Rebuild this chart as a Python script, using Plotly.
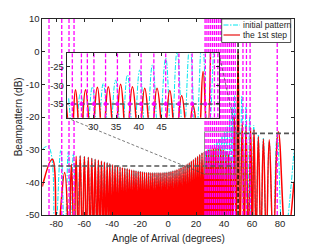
import plotly.graph_objects as go

FIG_W, FIG_H = 325, 244
PAGE_OFF = 8.0   # the page body margin shifts the figure by 8 px right and down
FONT = "Liberation Sans, Arial, sans-serif"
INK = "#262626"

# ---------------- main plot data (angle in degrees, level in dB) ----------------
x_tick_vals = [-80, -60, -40, -20, 0, 20, 40, 60, 80]
x_tick_text = ["-80", "-60", "-40", "-20", "0", "20", "40", "60", "80"]
y_tick_vals = [-50, -40, -30, -20, -10, 0, 10]
y_tick_text = ["-50", "-40", "-30", "-20", "-10", "0", "10"]

MAIN_NULL_DB = -58.0   # nulls fall below the visible range

red_start = (-90.0, -41.3)
red_end = (90.0, -39.8)
red_peak_deg = [-82.8, -74.0, -69.2,
    -65.8, -62.9, -59.9, -57.1, -54.6, -52.2, -49.9, -47.7, -45.6, -43.6,
    -41.7, -39.8, -38.0, -36.2, -34.4, -32.7, -31.0, -29.3, -27.7, -26.1,
    -24.5, -23.0, -21.4, -19.9, -18.4, -16.9, -15.4, -13.9, -12.4, -11.0,
    -9.5, -8.0, -6.6, -5.2, -3.7, -2.3, -0.9, 0.6, 2.0, 3.4,
    4.9, 6.3, 7.8, 9.2, 10.7, 12.1, 13.6, 15.1, 16.6, 18.1,
    19.6, 21.1, 22.6, 24.2, 25.8, 27.4, 29.0, 30.7, 32.3, 34.1,
    35.8, 37.6, 39.4, 41.3, 43.2, 45.1,
    47.4, 50.0, 53.0, 55.7, 59.0, 61.4, 64.5, 68.1, 72.3, 78.8]
red_peak_db = [-32.9, -37.0, -34.5,
    -32.0, -31.9, -32.1, -32.3, -32.6, -32.9, -33.2, -33.5, -33.8, -34.0,
    -34.3, -34.6, -34.9, -35.1, -35.3, -35.5, -35.7, -35.8, -36.0, -36.2,
    -36.3, -36.5, -36.6, -36.7, -36.8, -36.9, -37.0, -37.0, -37.1, -37.1,
    -37.1, -37.1, -37.1, -37.1, -37.0, -37.0, -36.9, -36.8, -36.7, -36.5,
    -36.3, -36.1, -35.8, -35.5, -35.2, -34.8, -34.4, -34.0, -33.5, -33.0,
    -32.5, -32.0, -31.5, -31.0, -30.6, -30.3, -30.0, -29.8, -29.6, -29.5,
    -29.5, -29.7, -30.0, -30.5, -31.3, -32.5,
    -20.0, 0.0, -21.9, -22.8, -23.2, -23.8, -26.0, -26.8, -27.0, -24.5]
red_null_deg = [-79.5, -71.0, -67.3,
    -64.3, -61.4, -58.5, -55.8, -53.4, -51.0, -48.8, -46.6, -44.6, -42.6,
    -40.7, -38.9, -37.1, -35.3, -33.5, -31.8, -30.1, -28.5, -26.9, -25.3,
    -23.7, -22.2, -20.6, -19.1, -17.6, -16.1, -14.6, -13.1, -11.7, -10.2,
    -8.7, -7.3, -5.9, -4.4, -3.0, -1.6, -0.1, 1.3, 2.7, 4.1,
    5.6, 7.0, 8.5, 9.9, 11.4, 12.8, 14.3, 15.8, 17.3, 18.8,
    20.3, 21.8, 23.4, 25.0, 26.6, 28.2, 29.8, 31.5, 33.2, 34.9,
    36.7, 38.5, 40.3, 42.2, 44.1,
    46.2, 48.7, 51.3, 54.4, 57.4, 60.2, 62.9, 66.3, 70.2, 75.2, 84.5]

cyan_start = (-90.0, -29.9)
cyan_end = (90.0, -30.2)
cyan_peak_deg = [-85.7, -76.8, -71.4, -67.8,
    -62.9, -59.9, -57.1, -54.6, -52.2, -49.9, -47.7, -45.6, -43.6, -41.7,
    -39.8, -38.0, -36.2, -34.4, -32.7, -31.0, -29.3, -27.7, -26.1, -24.5,
    -23.0, -21.4, -19.9, -18.4, -16.9, -15.4, -13.9, -12.4, -11.0, -9.5,
    -8.0, -6.6, -5.2, -3.7, -2.3, -0.9, 0.6, 2.0, 3.4, 4.9,
    6.3, 7.8, 9.2, 10.7, 12.1, 13.6, 15.1, 16.6, 18.1, 19.6,
    21.1, 22.6, 24.2,
    26.6, 28.2, 29.8, 31.5, 33.2, 34.9, 36.7, 38.5, 40.3, 42.2, 44.1, 45.9, 47.5,
    50.0, 52.7, 55.6, 58.3, 61.2, 64.5, 68.1, 72.3, 78.0]
cyan_peak_db = [-29.1, -30.3, -30.6, -31.1,
    -31.9, -32.1, -32.3, -32.6, -32.9, -33.2, -33.5, -33.8, -34.0, -34.3,
    -34.6, -34.9, -35.1, -35.3, -35.5, -35.7, -35.8, -36.0, -36.2, -36.3,
    -36.5, -36.6, -36.7, -36.8, -36.9, -37.0, -37.0, -37.1, -37.1, -37.1,
    -37.1, -37.1, -37.1, -37.0, -37.0, -36.9, -36.8, -36.7, -36.5, -36.3,
    -36.1, -35.8, -35.5, -35.2, -34.8, -34.4, -34.0, -33.5, -33.0, -32.5,
    -32.0, -31.5, -31.0,
    -30.5, -30.0, -29.6, -29.0, -28.4, -27.6, -26.8, -25.8, -24.6, -23.0, -20.5, -17.0, -13.5,
    0.0, -13.5, -17.0, -20.0, -22.5, -25.5, -26.5, -27.5, -25.5]
cyan_null_deg = [-81.0, -74.0, -69.6, -65.3,
    -61.4, -58.5, -55.8, -53.4, -51.0, -48.8, -46.6, -44.6, -42.6, -40.7,
    -38.9, -37.1, -35.3, -33.5, -31.8, -30.1, -28.5, -26.9, -25.3, -23.7,
    -22.2, -20.6, -19.1, -17.6, -16.1, -14.6, -13.1, -11.7, -10.2, -8.7,
    -7.3, -5.9, -4.4, -3.0, -1.6, -0.1, 1.3, 2.7, 4.1, 5.6,
    7.0, 8.5, 9.9, 11.4, 12.8, 14.3, 15.8, 17.3, 18.8, 20.3,
    21.8, 23.4,
    25.4, 27.4, 29.0, 30.7, 32.3, 34.1, 35.8, 37.6, 39.4, 41.3, 43.2, 45.0, 46.7, 48.6,
    51.3, 54.2, 57.0, 59.7, 62.8, 66.3, 70.2, 75.0, 82.4]

interf_deg = [-85.2, -76.1, -70.9, -67.3,
              26.4, 27.75, 29.1, 30.45, 31.8, 33.15, 34.5, 35.85, 37.2, 38.55,
              39.9, 41.25, 42.6, 43.95, 45.3, 46.65, 48.0,
              53.5, 56.0, 58.6, 78.0]
target_deg = [50.0]
thr_deg = [(-90.0, 48.5), (48.5, 90.0)]
thr_db = [-35.0, -25.0]
zoom_box_deg = (26.0, 48.5)
zoom_box_db = (-37.5, -24.5)

# ---------------- inset data ----------------
in_x_tick_vals = [30, 35, 40, 45]
in_x_tick_text = ["30", "35", "40", "45"]
in_y_tick_vals = [-35, -30, -25]
in_y_tick_text = ["-35", "-30", "-25"]
IN_NULL_DB = -45.0

in_red_peak_deg = [23.8, 26.1, 28.3, 30.9, 33.3, 36.0, 38.6, 41.3, 44.0, 46.8, 49.4, 51.9, 54.1, 56.0]
in_red_peak_db = [-31.0, -31.2, -31.2, -30.5, -30.4, -29.7, -30.4, -30.8, -30.8, -31.4, -32.8, -35.3, -26.3, 0.0]
in_red_null_deg = [25.2, 27.2, 29.6, 32.1, 34.7, 37.3, 40.0, 42.7, 45.5, 48.1, 50.8, 53.1, 55.0]

in_cyan_peak_deg = [24.6, 27.2, 29.8, 32.2, 34.9, 37.5, 40.2, 43.0, 45.9, 48.4, 51.2, 53.9, 56.5]
in_cyan_peak_db = [-33.5, -32.1, -30.4, -29.5, -28.6, -27.2, -25.9, -24.5, -22.7, -21.0, -19.0, -17.0, -15.0]
in_cyan_null_deg = [25.9, 28.5, 31.0, 33.55, 36.2, 38.85, 41.6, 44.4, 47.15, 49.8, 52.55, 55.2]

in_interf_deg = [25.4, 27.4, 28.7, 30.15, 32.7, 35.3, 38.0, 40.5, 43.3, 45.9, 48.8,
                 51.7, 54.6, 55.7, 56.6, 57.35]
in_marker_deg = [25.4, 27.4, 30.15, 32.7, 35.3, 38.0, 40.5, 43.3, 45.9, 48.8, 51.7, 54.6]
in_thr_db = -35.0


def lobe_path(start, peaks_deg, peaks_db, nulls_deg, null_db, end):
    xs, ys = [], []
    if start is not None:
        xs.append(start[0]); ys.append(start[1])
    for i in range(len(peaks_deg)):
        xs.append(peaks_deg[i]); ys.append(peaks_db[i])
        if i < len(nulls_deg):
            xs.append(nulls_deg[i]); ys.append(null_db)
    if end is not None:
        xs.append(end[0]); ys.append(end[1])
    return xs, ys


def vlines(vals, lo, hi):
    xs, ys = [], []
    for v in vals:
        xs += [v, v, None]
        ys += [lo, hi, None]
    return xs, ys


def fx(px):
    return (px - PAGE_OFF) / FIG_W


def fy(py):
    return 1 - (py - PAGE_OFF) / FIG_H


CYAN = "#00e5ee"
CYAN_DASH = "5px,1.5px,1.5px,1.5px"

fig = go.Figure()

# main plot curves
cx, cy = lobe_path(cyan_start, cyan_peak_deg, cyan_peak_db, cyan_null_deg, MAIN_NULL_DB, cyan_end)
fig.add_trace(go.Scatter(x=cx, y=cy, mode="lines", line=dict(color=CYAN, width=1, dash=CYAN_DASH, shape="spline", smoothing=1.3), xaxis="x", yaxis="y"))
rx, ry = lobe_path(red_start, red_peak_deg, red_peak_db, red_null_deg, MAIN_NULL_DB, red_end)
fig.add_trace(go.Scatter(x=rx, y=ry, mode="lines", line=dict(color="#ff0000", width=1.5, shape="spline", smoothing=1.3), xaxis="x", yaxis="y"))

mx, my = vlines(interf_deg, -50, 10)
fig.add_trace(go.Scatter(x=mx, y=my, mode="lines", line=dict(color="#ff00ff", width=1.3, dash="4px,2px"), xaxis="x", yaxis="y"))
tx, ty = vlines(target_deg, -50, 10)
fig.add_trace(go.Scatter(x=tx, y=ty, mode="lines", line=dict(color="#000000", width=1.3, dash="4px,2px"), xaxis="x", yaxis="y"))
for (a, b), lvl in zip(thr_deg, thr_db):
    fig.add_trace(go.Scatter(x=[a, b], y=[lvl, lvl], mode="lines", line=dict(color="#555555", width=1.6, dash="5px,3px"), xaxis="x", yaxis="y"))
bx0, bx1 = zoom_box_deg
by0, by1 = zoom_box_db
fig.add_trace(go.Scatter(x=[bx0, bx1, bx1, bx0, bx0], y=[by0, by0, by1, by1, by0], mode="lines", line=dict(color="#808080", width=0.8), xaxis="x", yaxis="y"))

# inset curves
icx, icy = lobe_path(None, in_cyan_peak_deg, in_cyan_peak_db, in_cyan_null_deg, IN_NULL_DB, None)
fig.add_trace(go.Scatter(x=icx, y=icy, mode="lines", line=dict(color=CYAN, width=1, dash=CYAN_DASH, shape="spline", smoothing=1.3), xaxis="x2", yaxis="y2"))
irx, iry = lobe_path(None, in_red_peak_deg, in_red_peak_db, in_red_null_deg, IN_NULL_DB, None)
fig.add_trace(go.Scatter(x=irx, y=iry, mode="lines", line=dict(color="#ff0000", width=1.5, shape="spline", smoothing=1.3), xaxis="x2", yaxis="y2"))
imx, imy = vlines(in_interf_deg, -45, 0)
fig.add_trace(go.Scatter(x=imx, y=imy, mode="lines", line=dict(color="#ff00ff", width=1.3, dash="4px,2px"), xaxis="x2", yaxis="y2"))
fig.add_trace(go.Scatter(x=[20, 60], y=[in_thr_db, in_thr_db], mode="lines", line=dict(color="#555555", width=1.6, dash="5px,3px"), xaxis="x2", yaxis="y2"))
fig.add_trace(go.Scatter(x=in_marker_deg, y=[in_thr_db] * len(in_marker_deg), mode="markers", marker=dict(color="#ff00ff", size=4), xaxis="x2", yaxis="y2"))

# ---------------- layout ----------------
MAIN_X_DOM = [fx(42.3), fx(294.0)]
MAIN_Y_DOM = [fy(215.0), fy(19.0)]
IN_X_DOM = [fx(66.7), fx(219.0)]
IN_Y_DOM = [fy(117.7), fy(53.3)]
MAIN_X_RANGE = [-90, 90]
MAIN_Y_RANGE = [-50, 10]
IN_X_RANGE = [24.17, 57.6]
IN_Y_RANGE = [-38.7, -21.4]

ax_style = dict(showline=True, linecolor=INK, linewidth=0.8, mirror="ticks", ticks="inside",
                ticklen=3, tickwidth=0.8, tickcolor=INK, showgrid=False, zeroline=False,
                automargin=False, tickfont=dict(family=FONT, size=9.5, color=INK))

fig.update_layout(
    width=FIG_W, height=FIG_H, margin=dict(l=0, r=0, t=0, b=0, pad=0), autosize=False,
    paper_bgcolor="white", plot_bgcolor="white", showlegend=False,
    font=dict(family=FONT, size=9.5, color=INK),
    xaxis=dict(domain=MAIN_X_DOM, range=MAIN_X_RANGE, tickvals=x_tick_vals, ticktext=x_tick_text, anchor="y", **ax_style),
    yaxis=dict(domain=MAIN_Y_DOM, range=MAIN_Y_RANGE, tickvals=y_tick_vals, ticktext=y_tick_text, anchor="x", **ax_style),
    xaxis2=dict(domain=IN_X_DOM, range=IN_X_RANGE, tickvals=in_x_tick_vals, ticktext=in_x_tick_text, anchor="y2", **ax_style),
    yaxis2=dict(domain=IN_Y_DOM, range=IN_Y_RANGE, tickvals=in_y_tick_vals, ticktext=in_y_tick_text, anchor="x2", **ax_style),
)


def to_paper(deg, db, xdom, ydom, xr, yr):
    px = xdom[0] + (deg - xr[0]) / (xr[1] - xr[0]) * (xdom[1] - xdom[0])
    py = ydom[0] + (db - yr[0]) / (yr[1] - yr[0]) * (ydom[1] - ydom[0])
    return px, py


shapes = []
# connector lines between inset and zoom box
bl = to_paper(bx0, by0, MAIN_X_DOM, MAIN_Y_DOM, MAIN_X_RANGE, MAIN_Y_RANGE)
tr = to_paper(bx1, by1, MAIN_X_DOM, MAIN_Y_DOM, MAIN_X_RANGE, MAIN_Y_RANGE)
shapes.append(dict(type="line", xref="paper", yref="paper", x0=IN_X_DOM[0], y0=IN_Y_DOM[0], x1=bl[0], y1=bl[1],
                   line=dict(color="#444444", width=0.7, dash="3px,2px"), layer="above"))
shapes.append(dict(type="line", xref="paper", yref="paper", x0=IN_X_DOM[1], y0=IN_Y_DOM[1], x1=tr[0], y1=tr[1],
                   line=dict(color="#444444", width=0.7, dash="3px,2px"), layer="above"))

# legend (drawn manually to match the compact MATLAB legend)
shapes.append(dict(type="rect", xref="paper", yref="paper",
                   x0=fx(221.7), x1=fx(290.7), y0=fy(42.5), y1=fy(19.0),
                   line=dict(color=INK, width=0.8), fillcolor="white", layer="above"))
legend_rows = [("initial pattern", CYAN, CYAN_DASH, 1.0, 25.0),
               ("the 1st step", "#f06060", "solid", 1.8, 35.0)]
annotations = []
for label, col, dash, w, ypx in legend_rows:
    shapes.append(dict(type="line", xref="paper", yref="paper", x0=fx(223.5), x1=fx(240.0),
                       y0=fy(ypx), y1=fy(ypx), line=dict(color=col, width=w, dash=dash), layer="above"))
    annotations.append(dict(text=label, x=fx(241.0), y=fy(ypx), xref="paper", yref="paper",
                            xanchor="left", yanchor="middle", showarrow=False,
                            font=dict(family=FONT, size=8.5, color=INK)))

annotations.append(dict(text="Angle of Arrival (degrees)", x=fx(168.2), y=fy(238.3),
                        xref="paper", yref="paper", xanchor="center", yanchor="middle", showarrow=False,
                        font=dict(family=FONT, size=10, color=INK)))
annotations.append(dict(text="Beampattern (dB)", x=fx(18.3), y=fy(117.0), textangle=-90,
                        xref="paper", yref="paper", xanchor="center", yanchor="middle", showarrow=False,
                        font=dict(family=FONT, size=10, color=INK)))

fig.update_layout(shapes=shapes, annotations=annotations)
fig.write_html("out.html")
